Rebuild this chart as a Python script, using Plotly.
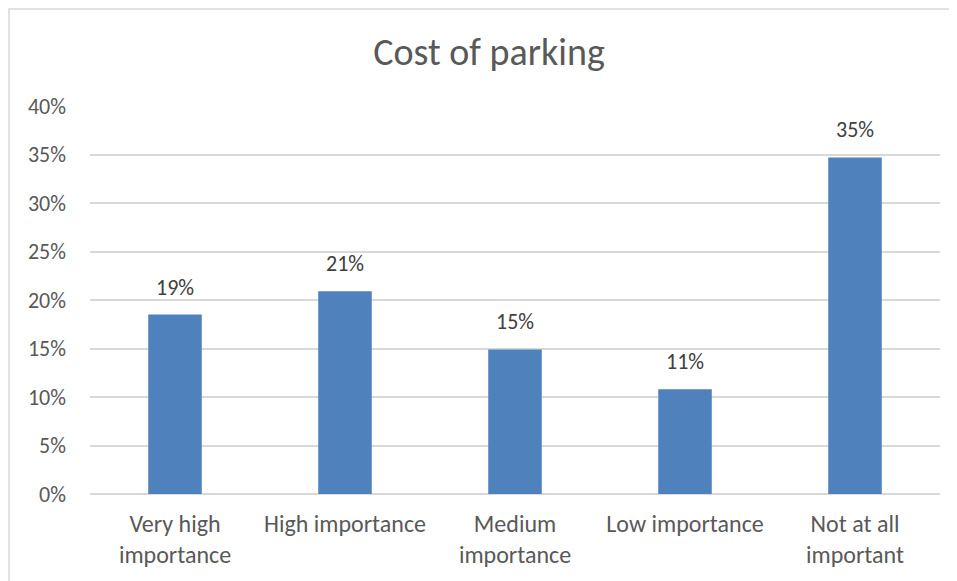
import plotly.graph_objects as go

categories = ["Very high<br>importance", "High importance", "Medium<br>importance", "Low importance", "Not at all<br>important"]
values = [0.185, 0.209, 0.149, 0.108, 0.347]
labels = ["19%", "21%", "15%", "11%", "35%"]
y_ticks = [0, 0.05, 0.10, 0.15, 0.20, 0.25, 0.30, 0.35, 0.40]
y_tick_labels = ["0%", "5%", "10%", "15%", "20%", "25%", "30%", "35%", "40%"]

FONT = "Carlito, Lato, sans-serif"
# page body has an 8px margin; figure is placed at (8, 8)
OFF = 8
W, H = 957 - OFF, 581 - OFF
ml, mr, mt, mb = 90 - OFF, 17, 106 - OFF, 87

fig = go.Figure(go.Bar(
    x=categories, y=values,
    marker=dict(color="#4f81bd", line=dict(width=0)),
    cliponaxis=False,
))

for c, v, t in zip(categories, values, labels):
    fig.add_annotation(x=c, y=v, text=t, showarrow=False, yanchor="bottom", yshift=12,
                       font=dict(family=FONT, size=22, color="#404040"))

pw = W - ml - mr
ph = H - mt - mb
fig.add_shape(type="rect", xref="paper", yref="paper",
              x0=(1 - ml) / pw, x1=(1000 - ml) / pw,
              y0=(H - mb - 650) / ph, y1=(H - mb - 1) / ph,
              line=dict(color="#d9d9d9", width=1.5), fillcolor="rgba(0,0,0,0)", layer="below")

fig.update_layout(
    width=W, height=H,
    margin=dict(l=ml, r=mr, t=mt, b=mb),
    paper_bgcolor="white", plot_bgcolor="white",
    bargap=0.685,
    showlegend=False,
    title=dict(text="Cost of parking", x=(489 - OFF) / W, xref="container", xanchor="center",
               y=1 - (52 - OFF) / H, yref="container", yanchor="middle",
               font=dict(family=FONT, size=38, color="#595959")),
    font=dict(family=FONT, color="#595959"),
    yaxis=dict(range=[0, 0.40], tickvals=y_ticks, ticktext=y_tick_labels,
               showgrid=True, gridcolor="#d9d9d9", gridwidth=1.5,
               zeroline=True, zerolinecolor="#d9d9d9", zerolinewidth=1.5,
               showline=False, ticks="", ticklabelstandoff=23,
               tickfont=dict(family=FONT, size=22, color="#595959")),
    xaxis=dict(showgrid=False, showline=False, ticks="",
               tickfont=dict(family=FONT, size=24, color="#595959"),
               ticklabelstandoff=13),
)

fig.write_html("out.html")
